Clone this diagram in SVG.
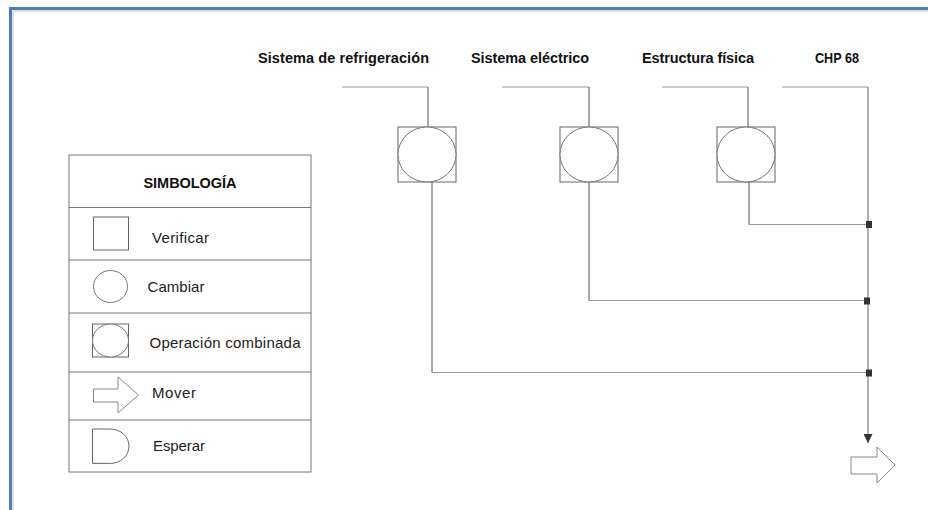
<svg xmlns="http://www.w3.org/2000/svg" width="928" height="510" viewBox="0 0 928 510">
<style>
.lbl{font-family:"Liberation Sans",Arial,sans-serif;font-size:14.5px;font-weight:bold;fill:#111}
.leg{font-family:"Liberation Sans",Arial,sans-serif;font-size:15px;fill:#222}
.sym{fill:#fff;stroke:#666;stroke-width:1}
.circ{fill:#fff;stroke:#777;stroke-width:1}
.top{fill:none;stroke:#999;stroke-width:1.2}
.down{fill:none;stroke:#555;stroke-width:1}
.bus{fill:none;stroke:#999;stroke-width:1.5}
.jn{fill:#333}
.row{fill:none;stroke:#777;stroke-width:1}
</style>
<defs>
<marker id="ah" viewBox="0 0 10 10" refX="10" refY="5" markerWidth="9" markerHeight="9" markerUnits="userSpaceOnUse" orient="auto">
<path d="M0,0 L10,5 L0,10 Z" fill="#333"/>
</marker>
</defs>
<rect width="928" height="510" fill="#fff"/>
<g id="frame">
<path d="M13,510 V11 H928" fill="none" stroke="#ddd" stroke-width="2"/>
<path d="M10.5,510 V8.5 H928" fill="none" stroke="#4f7fb8" stroke-width="3"/>
</g>
<g id="connectors">
<path class="top" d="M342,87 H428"/>
<path class="down" d="M428,87 V127"/>
<path class="down" d="M432,182 V372.5"/>
<path class="top" d="M432,372.5 H868"/>
<path class="top" d="M502,87 H589"/>
<path class="down" d="M589,87 V127"/>
<path class="down" d="M589,182 V300.5"/>
<path class="top" d="M589,300.5 H868"/>
<path class="top" d="M662,87 H748"/>
<path class="down" d="M748,87 V127"/>
<path class="down" d="M749,182 V224.5"/>
<path class="top" d="M749,224.5 H868"/>
<path class="top" d="M782,87 H868"/>
<path class="bus" d="M868,87 V443" marker-end="url(#ah)"/>
<rect class="jn" x="866" y="221" width="6" height="7"/>
<rect class="jn" x="864" y="297.5" width="6" height="7"/>
<rect class="jn" x="866" y="369.5" width="6" height="7"/>
</g>
<g id="n-refrigeracion">
<text class="lbl" x="258" y="63" textLength="171">Sistema de refrigeración</text>
<rect class="sym" x="398" y="127" width="58" height="55"/>
<ellipse class="circ" cx="427" cy="154.5" rx="29" ry="27.5"/>
</g>
<g id="n-electrico">
<text class="lbl" x="471" y="63" textLength="118">Sistema eléctrico</text>
<rect class="sym" x="560" y="127" width="58" height="55"/>
<ellipse class="circ" cx="589" cy="154.5" rx="29" ry="27.5"/>
</g>
<g id="n-estructura">
<text class="lbl" x="642" y="63" textLength="112">Estructura física</text>
<rect class="sym" x="717" y="127" width="58" height="55"/>
<ellipse class="circ" cx="746" cy="154.5" rx="29" ry="27.5"/>
</g>
<g id="n-chp">
<text class="lbl" x="815" y="63" textLength="44" lengthAdjust="spacingAndGlyphs">CHP 68</text>
</g>
<g id="n-mover-final">
<path d="M851,457 H877 V447 L895,465 L877,483 V474 H851 Z" fill="#fff" stroke="#888" stroke-width="1"/>
</g>
<g id="legend">
<rect x="69" y="155" width="242" height="317" fill="#fff" stroke="#777" stroke-width="1"/>
<path class="row" d="M69,207.5 H311 M69,260 H311 M69,313 H311 M69,372 H311 M69,420 H311"/>
<text class="lbl" x="190" y="188" text-anchor="middle" textLength="93">SIMBOLOGÍA</text>
<rect class="sym" x="93.5" y="217" width="35" height="33"/>
<text class="leg" x="152" y="243" textLength="57">Verificar</text>
<ellipse class="circ" cx="110.5" cy="286.5" rx="17" ry="16"/>
<text class="leg" x="147.5" y="292" textLength="57">Cambiar</text>
<rect class="sym" x="92.5" y="324" width="36" height="33"/>
<ellipse class="circ" cx="110.5" cy="340.5" rx="18" ry="16.5"/>
<text class="leg" x="149.5" y="347.5" textLength="151">Operación combinada</text>
<path d="M93.5,389 H118 V377 L138.5,395 L118,413 V402 H93.5 Z" fill="#fff" stroke="#888" stroke-width="1"/>
<text class="leg" x="152" y="398" textLength="44">Mover</text>
<path d="M92.5,429 H110.5 A18.5,17.2 0 0 1 110.5,463.4 H92.5 Z" fill="#fff" stroke="#666" stroke-width="1"/>
<text class="leg" x="153" y="451" textLength="52">Esperar</text>
</g>
</svg>
